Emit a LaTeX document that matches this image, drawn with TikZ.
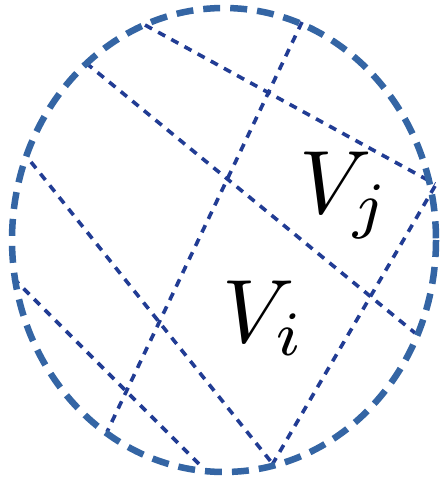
\documentclass[tikz,border=0pt]{standalone}
\begin{document}
\begin{tikzpicture}[x=1pt,y=-1pt,
  rim/.style={draw=rimblue,line width=6.5pt,dash pattern=on 17pt off 10pt},
  cell/.style={draw=cellblue,line width=3.6pt,dash pattern=on 8pt off 7pt},
  lab/.style={inner sep=0pt,scale=9}]
\definecolor{rimblue}{RGB}{52,101,164}
\definecolor{cellblue}{RGB}{33,60,148}
\useasboundingbox (0,0) rectangle (441,478);
\fill[white] (0,0) rectangle (441,478);
% endpoints
\coordinate (a1) at (145,25);  \coordinate (a2) at (435,184);
\coordinate (b1) at (86,63);   \coordinate (b2) at (415,333);
\coordinate (c1) at (31,162);  \coordinate (c2) at (272,463);
\coordinate (d1) at (13,278);  \coordinate (d2) at (203,468);
\coordinate (e1) at (302,22);  \coordinate (e2) at (107,432);
\coordinate (f1) at (435,186); \coordinate (f2) at (272,465);
% cell boundaries
\draw[cell] (a1) -- (a2);
\draw[cell] (b1) -- (b2);
\draw[cell] (c1) -- (c2);
\draw[cell] (d1) -- (d2);
\draw[cell] (e1) -- (e2);
\draw[cell] (f1) -- (f2);
% outer dashed circle
\draw[rim] (224,240) ellipse [x radius=212, y radius=232];
% labels
\node[lab,anchor=base west] (vj) at (298,213) {$V_j$};
\node[lab,anchor=base west] (vi) at (221,342) {$V_i$};
\end{tikzpicture}
\end{document}
